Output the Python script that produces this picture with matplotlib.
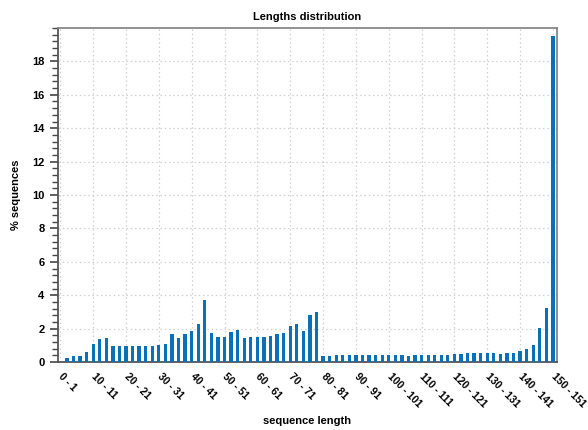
import numpy as np
import matplotlib
matplotlib.use("Agg")
import matplotlib.pyplot as plt
from matplotlib.ticker import MultipleLocator

# bins of length 2: "0 - 1", "2 - 3", ... "150 - 151"
bin_starts = list(range(0, 152, 2))
categories = [f"{s} - {s + 1}" for s in bin_starts]

# % sequences per bin
pct = [
    0.0, 0.22, 0.38, 0.38, 0.60, 1.06, 1.38, 1.44, 0.98, 0.98,
    0.96, 0.98, 0.98, 0.98, 0.98, 1.00, 1.10, 1.66, 1.44, 1.66,
    1.86, 2.30, 3.70, 1.74, 1.48, 1.52, 1.80, 1.90, 1.44, 1.48,
    1.50, 1.52, 1.58, 1.66, 1.72, 2.14, 2.28, 1.84, 2.84, 3.00,
    0.38, 0.38, 0.40, 0.40, 0.42, 0.44, 0.42, 0.44, 0.42, 0.44,
    0.45, 0.42, 0.40, 0.38, 0.40, 0.42, 0.42, 0.42, 0.44, 0.44,
    0.48, 0.50, 0.54, 0.54, 0.54, 0.56, 0.56, 0.50, 0.52, 0.52,
    0.66, 0.78, 1.02, 2.04, 3.26, 19.54,
]

plt.rcParams['font.family'] = ['Liberation Sans', 'DejaVu Sans']
plt.rcParams['font.weight'] = 'bold'

fig = plt.figure(figsize=(5.88, 4.30), dpi=100)
ax = fig.add_axes([0.0981, 0.158, 0.849, 0.777])

x = np.arange(len(categories))
ax.bar(x, pct, width=0.5, color='#0a70b9', zorder=3)

ax.set_xlim(-0.4, 75.6)
ax.set_ylim(0, 20)

ax.set_xticks(x[::5])
ax.set_xticklabels(categories[::5], rotation=-45, ha='left', va='center',
                   rotation_mode='anchor', fontsize=7.5, fontweight='bold')
ax.tick_params(axis='x', length=0, pad=9)

ax.yaxis.set_major_locator(MultipleLocator(2))
ax.yaxis.set_minor_locator(MultipleLocator(0.4))
ax.tick_params(axis='y', which='major', length=6, width=1.2, color='#444444',
               labelsize=8)
ax.tick_params(axis='y', which='minor', length=4, width=1.0, color='#444444')
ax.set_yticks([0, 2, 4, 6, 8, 10, 12, 14, 16, 18])
for lab in ax.get_yticklabels():
    lab.set_fontweight('bold')

ax.grid(True, which='major', color='#d0d0d0', linestyle=(0, (1.2, 2.2)),
        linewidth=0.9, zorder=0)

for side in ['left', 'bottom', 'top', 'right']:
    ax.spines[side].set_color('#555555')
    ax.spines[side].set_linewidth(1.3)
ax.spines['top'].set_color('#888888')
ax.spines['right'].set_color('#888888')

ax.set_title('Lengths distribution', fontsize=8, fontweight='bold', pad=6)
ax.set_xlabel('sequence length', fontsize=8, fontweight='bold', labelpad=5)
ax.set_ylabel('% sequences', fontsize=8, fontweight='bold', labelpad=8)

fig.savefig('out.png', dpi=100)
